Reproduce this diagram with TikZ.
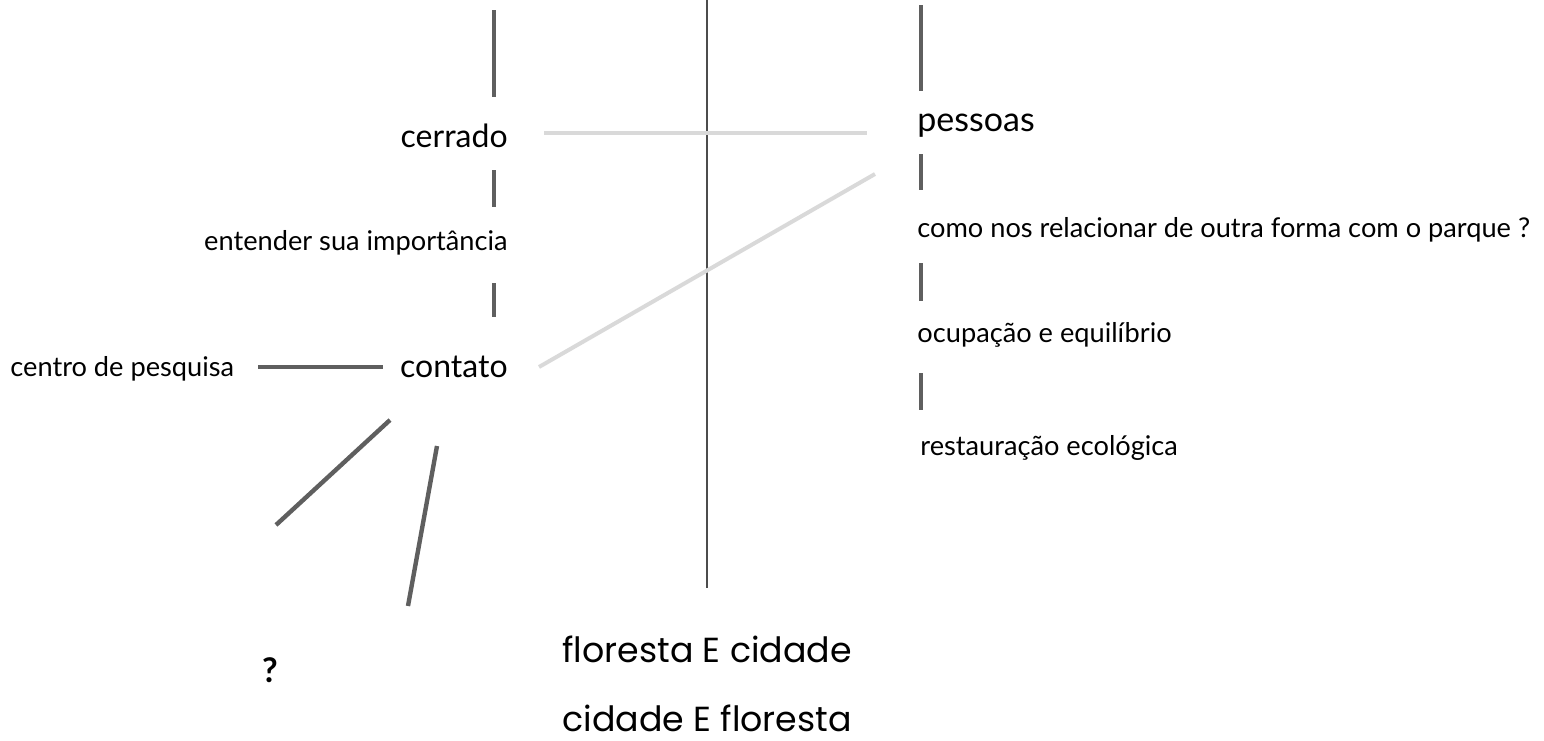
\documentclass[tikz,border=0pt]{standalone}
\usepackage{fontspec}
\setmainfont{Lato}
\newfontfamily\bottomfont{Poppins}
\usepackage{tikz}
\usetikzlibrary{positioning}

\definecolor{bargray}{HTML}{5F5F5F}
\definecolor{faintgray}{HTML}{D9D9D9}

\tikzset{
    bar/.style={draw=bargray, line width=2.2pt},
    faint/.style={draw=faintgray, line width=2pt},
    axis/.style={draw=bargray!80!black, line width=0.8pt},
    bigtxt/.style={inner sep=0pt, font=\fontsize{16}{18}\selectfont},
    smalltxt/.style={inner sep=0pt, font=\fontsize{13.6}{16}\selectfont},
    bottomtxt/.style={inner sep=0pt, anchor=base west, font=\bottomfont\fontsize{17.4}{20}\selectfont},
}

\begin{document}
\begin{tikzpicture}[x=0.5pt, y=-0.5pt]
    \useasboundingbox (0,0) rectangle (1544,740);

    % central divider
    \coordinate (divtop) at (707,0);
    \coordinate (divbot) at (707,588);
    \draw[axis] (divtop) -- (divbot);

    % left column
    \node[bigtxt, anchor=base east] at (508,147) (cerrado) {cerrado};
    \node[smalltxt, anchor=base east] at (508,250) (importancia) {entender sua importância};
    \node[bigtxt, anchor=base east] at (508,377) (contato) {contato};
    \node[smalltxt, anchor=base west] at (10,376) (pesquisa) {centro de pesquisa};
    \node[inner sep=0pt, anchor=base, font=\bfseries\fontsize{17}{19}\selectfont] at (270,682) (duvida) {?};

    \coordinate (l1a) at (494,10);   \coordinate (l1b) at (494,97);
    \coordinate (l2a) at (494,170);  \coordinate (l2b) at (494,207);
    \coordinate (l3a) at (494,283);  \coordinate (l3b) at (494,317);
    \draw[bar] (l1a) -- (l1b);
    \draw[bar] (l2a) -- (l2b);
    \draw[bar] (l3a) -- (l3b);

    \coordinate (h1a) at (258,367);  \coordinate (h1b) at (383,367);
    \draw[bar] (h1a) -- (h1b);

    \coordinate (d1a) at (390,420);  \coordinate (d1b) at (276,525);
    \coordinate (d2a) at (437,446);  \coordinate (d2b) at (408,606);
    \draw[bar] (d1a) -- (d1b);
    \draw[bar] (d2a) -- (d2b);

    % right column
    \node[bigtxt, anchor=base west, font=\fontsize{17}{19}\selectfont] at (917,131) (pessoas) {pessoas};
    \node[smalltxt, anchor=base west] at (917,237) (parque) {como nos relacionar de outra forma com o parque ?};
    \node[smalltxt, anchor=base west] at (917,342) (equilibrio) {ocupação e equilíbrio};
    \node[smalltxt, anchor=base west] at (920,455) (restauracao) {restauração ecológica};

    \coordinate (r1a) at (921,5);    \coordinate (r1b) at (921,91);
    \coordinate (r2a) at (921,154);  \coordinate (r2b) at (921,190);
    \coordinate (r3a) at (921,263);  \coordinate (r3b) at (921,301);
    \coordinate (r4a) at (921,373);  \coordinate (r4b) at (921,410);
    \draw[bar] (r1a) -- (r1b);
    \draw[bar] (r2a) -- (r2b);
    \draw[bar] (r3a) -- (r3b);
    \draw[bar] (r4a) -- (r4b);

    % links across the divider
    \coordinate (f1a) at (544,133);  \coordinate (f1b) at (867,133);
    \coordinate (f2a) at (539,367);  \coordinate (f2b) at (875,174);
    \draw[faint] (f1a) -- (f1b);
    \draw[faint] (f2a) -- (f2b);

    % bottom
    \node[bottomtxt] at (562,662) (floresta) {floresta E cidade};
    \node[bottomtxt] at (562,731) (cidade) {cidade E floresta};
\end{tikzpicture}
\end{document}
